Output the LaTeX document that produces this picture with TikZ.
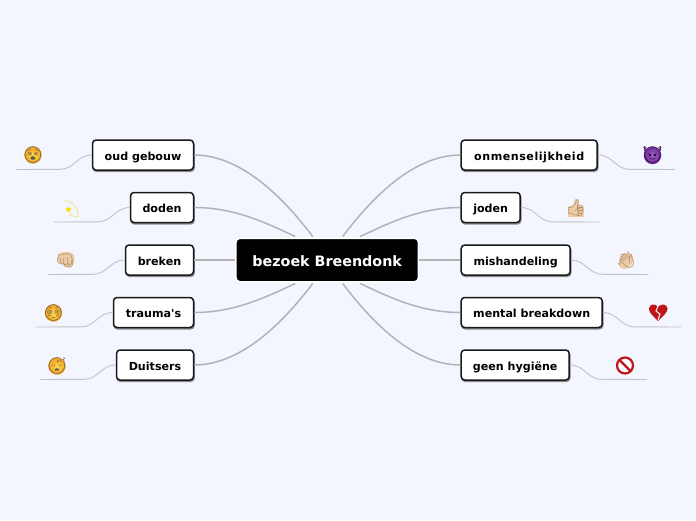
\documentclass[tikz,border=0pt]{standalone}
\usepackage{fontspec}
\setmainfont{DejaVu Sans}[Ligatures={TeXOff,NoCommon}]
\newfontfamily\emojifont{Noto Emoji}
\usetikzlibrary{calc,shapes.geometric}
\definecolor{bgc}{HTML}{F3F6FF}
\definecolor{mainline}{HTML}{B3B3B5}
\definecolor{subline}{HTML}{C2C2CA}
\definecolor{skin}{HTML}{EDCBA6}
\definecolor{skind}{HTML}{A98662}
\definecolor{hred}{HTML}{C0141C}
\definecolor{faceo}{HTML}{F4A020}
\definecolor{facei}{HTML}{FFD84A}
\definecolor{devilo}{HTML}{6A2C96}
\definecolor{devili}{HTML}{A060C8}
\tikzset{x=1pt,y=-1pt,
 topic/.style={draw=black!90,line width=1.5pt,rounded corners=3.5pt,fill=white,minimum height=30pt,inner sep=0pt,align=center,text height=10pt,text depth=0pt,font=\fontsize{11.1}{13}\selectfont\bfseries,
   preaction={draw=black!45,fill=black!45,line width=1.5pt,transform canvas={xshift=0.6pt,yshift=-1.4pt}}},
 central/.style={draw=white,line width=1.5pt,rounded corners=4pt,fill=black,text=white,minimum height=43.5pt,minimum width=182.5pt,inner sep=0pt,text height=12pt,text depth=0pt,font=\fontsize{14.3}{16}\selectfont\bfseries},
 mainconn/.style={draw=mainline,line width=1.5pt},
 subconn/.style={draw=subline,line width=0.9pt},
 emo/.style={font=\emojifont\fontsize{16}{18}\selectfont,inner sep=0pt},
 facedisc/.style={circle,inner sep=0pt,minimum size=17.5pt,draw=none,inner color=facei,outer color=faceo},
 devildisc/.style={circle,inner sep=0pt,minimum size=17.5pt,draw=none,inner color=devili,outer color=devilo}}
\begin{document}
\begin{tikzpicture}
\useasboundingbox (0,0) rectangle (696,520);
\fill[bgc] (0,0) rectangle (696,520);
% nodes
\node[central] (root) at (327.2,260) {bezoek Breendonk};
\node[topic,minimum width=101pt] (l1) at (143,155) {oud gebouw};
\node[topic,minimum width=63pt] (l2) at (162,207.5) {doden};
\node[topic,minimum width=68pt] (l3) at (159.5,260) {breken};
\node[topic,minimum width=80pt] (l4) at (153.5,312.5) {trauma's};
\node[topic,minimum width=77pt] (l5) at (155,365) {Duitsers};
\node[topic,minimum width=136pt] (r1) at (529.2,155) {\addfontfeature{LetterSpace=4.8}onmenselijkheid};
\node[topic,minimum width=59pt] (r2) at (490.7,207.5) {joden};
\node[topic,minimum width=109pt] (r3) at (515.7,260) {mishandeling};
\node[topic,minimum width=141pt] (r4) at (531.7,312.5) {mental breakdown};
\node[topic,minimum width=108pt] (r5) at (515.2,365) {geen hygiëne};
% main connectors
\coordinate (t1) at ($(root.north)+(-14.5,-1)$);
\coordinate (t2) at ($(root.north)+(-32,-1)$);
\coordinate (b1) at ($(root.south)+(-14.5,1)$);
\coordinate (b2) at ($(root.south)+(-32,1)$);
\coordinate (t3) at ($(root.north)+(15.5,-1)$);
\coordinate (t4) at ($(root.north)+(33,-1)$);
\coordinate (b3) at ($(root.south)+(15.5,1)$);
\coordinate (b4) at ($(root.south)+(33,1)$);
\draw[mainconn] (l1.east) .. controls +(50,0) and +(-25,-33) .. (t1);
\draw[mainconn] (l2.east) .. controls +(40,0) and +(-30,-14) .. (t2);
\draw[mainconn] (l3.east) -- (root.west);
\draw[mainconn] (l4.east) .. controls +(40,0) and +(-30,14) .. (b2);
\draw[mainconn] (l5.east) .. controls +(50,0) and +(-25,33) .. (b1);
\draw[mainconn] (r1.west) .. controls +(-50,0) and +(25,-33) .. (t3);
\draw[mainconn] (r2.west) .. controls +(-40,0) and +(30,-14) .. (t4);
\draw[mainconn] (r3.west) -- (root.east);
\draw[mainconn] (r4.west) .. controls +(-40,0) and +(30,14) .. (b4);
\draw[mainconn] (r5.west) .. controls +(-50,0) and +(25,33) .. (b3);
% stubs
\coordinate (e1) at (16,169.5);
\coordinate (e2) at (54,222);
\coordinate (e3) at (48,274.5);
\coordinate (e4) at (36,327);
\coordinate (e5) at (40,379.5);
\coordinate (f1) at (675,169.5);
\coordinate (f2) at (599,222);
\coordinate (f3) at (648,274.5);
\coordinate (f4) at (681,327);
\coordinate (f5) at (647,379.5);
\foreach \n/\e in {l1/e1,l2/e2,l3/e3,l4/e4,l5/e5}{
 \draw[subconn] (\n.west) .. controls +(-15,0) and +(15,0) .. ($(\n.west)+(-32,14.3)$) -- (\e);}
\foreach \n/\e in {r1/f1,r2/f2,r3/f3,r4/f4,r5/f5}{
 \draw[subconn] (\n.east) .. controls +(15,0) and +(-15,0) .. ($(\n.east)+(32,14.3)$) -- (\e);}
% icons: faces
\node[facedisc] (i1) at (33,155) {}; \node[emo,text=black!65] (g1) at (33,155) {😵};
\node[facedisc] (i4) at (53.5,313) {}; \node[emo,text=black!65] (g4) at (53.5,313) {😳};
\node[facedisc] (i5) at (57,366) {}; \node[emo,text=black!65] (g5) at (57,366) {😴};
\fill[devilo] (643.5,147) -- (648,150) -- (646,153) -- cycle;
\fill[devilo] (661.5,147) -- (657,150) -- (659,153) -- cycle;
\node[devildisc] (i6) at (652.5,155.5) {}; \node[emo,text=black!70!violet] (g6) at (652.5,155) {😈};
% dizzy
\draw[draw=yellow!55!brown!45,line width=1.1pt] (64,201) .. controls (71,199) and (80,210) .. (78,216) .. controls (75,217) and (71,216) .. (69,214);
\node[star,star points=5,star point ratio=2.2,fill=yellow!80!orange,inner sep=0pt,minimum size=7pt] (i2) at (68.5,209.5) {};
% fist
\fill[skin] (58,254) .. controls (62,251) and (72,251) .. (74,255) .. controls (76,261) and (73,266) .. (70,268) .. controls (66,268) and (60,264) .. (57,260) -- cycle;
\node[emo,text=skind,font=\emojifont\fontsize{15}{17}\selectfont] (i3) at (65.5,260) {👊};
% thumb
\fill[skin] (568,206) rectangle (584,217);
\fill[skin] (573,207) -- (575,199) -- (578,199) -- (578,207) -- cycle;
\node[emo,text=skind] (i7) at (576,208) {👍};
% clap
\fill[skin,rotate around={-35:(626,261)}] (626,261) ellipse (6.5pt and 8.5pt);
\node[emo,text=skind] (i8) at (626,260) {👋};
% broken heart
\fill[hred] (658,321) .. controls (653,316) and (648.5,312) .. (649,308.5) .. controls (649.5,304) and (655,303) .. (658,307) .. controls (661,303) and (667,304) .. (667.5,308.5) .. controls (668,312) and (663,316) .. (658,321) -- cycle;
\draw[bgc,line width=1pt] (658,306) -- (656,311) -- (660,314) -- (658,320);
% no entry
\fill[white] (625,365.5) circle (8pt);
\draw[hred,line width=2.2pt] (625,365.5) circle (8pt);
\draw[hred,line width=2.2pt] (619.5,360) -- (630.5,371);
\end{tikzpicture}
\end{document}
